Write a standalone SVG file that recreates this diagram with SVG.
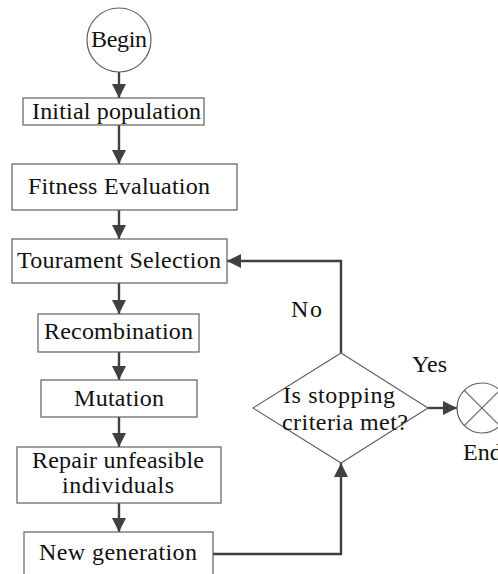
<svg xmlns="http://www.w3.org/2000/svg" width="498" height="574" viewBox="0 0 498 574">
  <defs>
    <marker id="arrow" viewBox="0 0 10 10" refX="10" refY="5" markerWidth="6" markerHeight="6" markerUnits="strokeWidth" orient="auto">
      <path d="M0,0 L10,5 L0,10 z" fill="#404040"/>
    </marker>
    <style>
      .box { fill: #ffffff; stroke: #606060; stroke-width: 1.2; }
      .label { font-family: "Liberation Serif", "DejaVu Serif", serif; font-size: 24px; fill: #111111; text-anchor: middle; }
      .edge { fill: none; stroke: #404040; stroke-width: 2.4; }
    </style>
  </defs>
  <rect width="498" height="574" fill="#ffffff"/>

  <g id="connectors">
    <line class="edge" x1="119" y1="72" x2="119" y2="98" marker-end="url(#arrow)"/>
    <line class="edge" x1="119" y1="125" x2="119" y2="164" marker-end="url(#arrow)"/>
    <line class="edge" x1="119" y1="210" x2="119" y2="239" marker-end="url(#arrow)"/>
    <line class="edge" x1="119" y1="283" x2="119" y2="314" marker-end="url(#arrow)"/>
    <line class="edge" x1="119" y1="352" x2="119" y2="380" marker-end="url(#arrow)"/>
    <line class="edge" x1="119" y1="417" x2="119" y2="447" marker-end="url(#arrow)"/>
    <line class="edge" x1="119" y1="503" x2="119" y2="532" marker-end="url(#arrow)"/>
    <!-- loop back: No -->
    <polyline class="edge" points="341,353 341,261 227,261" marker-end="url(#arrow)"/>
    <!-- new generation into the decision -->
    <polyline class="edge" points="213,554 341,554 341,463" marker-end="url(#arrow)"/>
    <!-- Yes to end -->
    <line class="edge" x1="428" y1="408" x2="457" y2="408" marker-end="url(#arrow)"/>
    <text class="label" x="306.5" y="317" textLength="31">No</text>
    <text class="label" x="429.5" y="372" textLength="35">Yes</text>
  </g>

  <g id="begin">
    <circle cx="119" cy="40" r="32" fill="#ffffff" stroke="#606060" stroke-width="1.2"/>
    <text class="label" x="119" y="47" textLength="56">Begin</text>
  </g>

  <g id="initial-population">
    <rect class="box" x="23" y="98" width="181" height="27"/>
    <text class="label" x="116.5" y="119" textLength="169">Initial population</text>
  </g>

  <g id="fitness-evaluation">
    <rect class="box" x="12" y="164" width="225" height="46"/>
    <text class="label" x="119" y="194" textLength="182">Fitness Evaluation</text>
  </g>

  <g id="tourament-selection">
    <rect class="box" x="12" y="239" width="215" height="44"/>
    <text class="label" x="119" y="268" textLength="204">Tourament Selection</text>
  </g>

  <g id="recombination">
    <rect class="box" x="38" y="314" width="161" height="38"/>
    <text class="label" x="118.5" y="339" textLength="149">Recombination</text>
  </g>

  <g id="mutation">
    <rect class="box" x="41" y="380" width="156" height="37"/>
    <text class="label" x="119" y="406" textLength="90">Mutation</text>
  </g>

  <g id="repair">
    <rect class="box" x="17" y="447" width="204" height="56"/>
    <text class="label" x="118" y="468" textLength="172">Repair unfeasible</text>
    <text class="label" x="118" y="493" textLength="112">individuals</text>
  </g>

  <g id="new-generation">
    <rect class="box" x="24" y="532" width="189" height="50"/>
    <text class="label" x="118" y="560" textLength="158">New generation</text>
  </g>

  <g id="decision">
    <polygon points="341,353 428,408 341,463 253,408" fill="#ffffff" stroke="#606060" stroke-width="1.2"/>
    <text class="label" x="339" y="403" textLength="112">Is stopping</text>
    <text class="label" x="345" y="430" textLength="126">criteria met?</text>
  </g>

  <g id="end">
    <circle cx="482" cy="408" r="25" fill="#ffffff" stroke="#606060" stroke-width="1.2"/>
    <line x1="464.3" y1="390.3" x2="499.7" y2="425.7" stroke="#606060" stroke-width="1.2"/>
    <line x1="499.7" y1="390.3" x2="464.3" y2="425.7" stroke="#606060" stroke-width="1.2"/>
    <text class="label" x="463" y="460" style="text-anchor:start">End</text>
  </g>
</svg>
